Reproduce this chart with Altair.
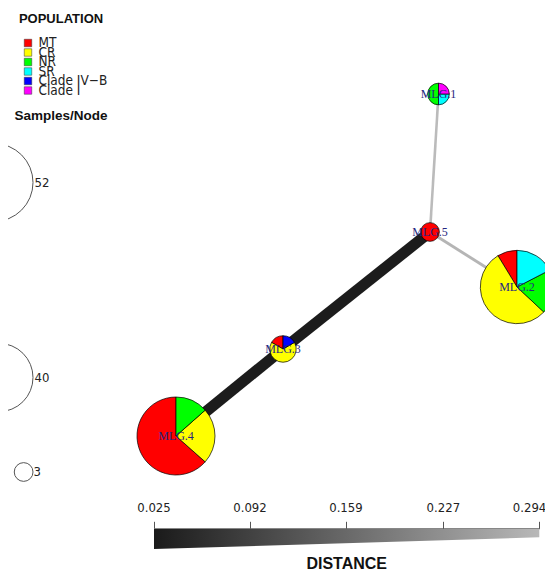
import math
import altair as alt
import pandas as pd

# ---------------- data ----------------
populations = ["MT", "CR", "NR", "SR", "Clade IV\u2212B", "Clade I"]
pop_colors = ["#FF0000", "#FFFF00", "#00FF00", "#00FFFF", "#0000FF", "#FF00FF"]

node_names = ["MLG.1", "MLG.2", "MLG.3", "MLG.4", "MLG.5"]
# network layout coordinates (layout units)
node_x = [438.5, 517, 283, 176, 430]
node_y = [94, 287, 349, 436, 232]
# samples per population (MT, CR, NR, SR, Clade IV-B, Clade I)
counts_mlg1 = [0, 0, 2, 1, 0, 1]
counts_mlg2 = [4, 25, 9, 8, 0, 0]
counts_mlg3 = [1, 4, 0, 0, 1, 0]
counts_mlg4 = [33, 12, 7, 0, 0, 0]
counts_mlg5 = [3, 0, 0, 0, 0, 0]

edge_from = ["MLG.4", "MLG.3", "MLG.5", "MLG.5"]
edge_to = ["MLG.3", "MLG.5", "MLG.1", "MLG.2"]
edge_dist = [0.025, 0.025, 0.294, 0.285]

dist_ticks = [0.025, 0.092, 0.159, 0.227, 0.294]
size_legend_values = [52, 40, 3]

# ---------------- derived tables ----------------
W, H = 537, 563
R_MAX = 39
all_counts = [counts_mlg1, counts_mlg2, counts_mlg3, counts_mlg4, counts_mlg5]

pie_rows = []
for name, x, y, cnts in zip(node_names, node_x, node_y, all_counts):
    total = sum(cnts)
    cum = 0
    for pop, c in zip(populations, cnts):
        if c == 0:
            continue
        c0 = cum / total
        cum += c
        c1 = cum / total
        # slices run counter-clockwise from 12 o'clock
        pie_rows.append({"node": name, "x": x, "y": y, "pop": pop,
                         "t0": 1 - c1, "t1": 1 - c0, "n": total})
pie_df = pd.DataFrame(pie_rows)

node_df = pd.DataFrame({"name": node_names, "x": node_x, "y": node_y})
pos = node_df.set_index("name")
edge_df = pd.DataFrame({
    "from": edge_from, "to": edge_to, "dist": edge_dist,
    "x1": [pos.loc[a, "x"] for a in edge_from],
    "y1": [pos.loc[a, "y"] for a in edge_from],
    "x2": [pos.loc[b, "x"] for b in edge_to],
    "y2": [pos.loc[b, "y"] for b in edge_to],
})

leg_df = pd.DataFrame({"pop": populations,
                       "x": [28] * 6,
                       "tx": [38.5] * 6,
                       "y": [43 + 9.5 * i for i in range(6)]})

size_df = pd.DataFrame({
    "n": size_legend_values,
    "label": [str(v) for v in size_legend_values],
    "cx": [33 - R_MAX * math.sqrt(v / 52) for v in size_legend_values],
    "cy": [182.5, 377.5, 472],
    "t0": [0, 0, 0], "t1": [1, 1, 1],
    "tx": [34.5, 34.5, 33.5],
})

titles_df = pd.DataFrame({
    "text": ["POPULATION", "Samples/Node", "DISTANCE"],
    "x": [61, 61, 346.7], "y": [18.7, 116, 564],
    "size": [13, 13.5, 16],
})

tick_df = pd.DataFrame({"dist": dist_ticks, "label": [f"{v:.3f}" for v in dist_ticks], "y": [508] * 5})
wedge_df = pd.DataFrame({"dist": [0.025, 0.294], "top": [529, 529], "bottom": [549, 537.3]})

# ---------------- scales ----------------
xs = alt.Scale(domain=[8, 8 + W])
ys = alt.Scale(domain=[8, 8 + H], reverse=True)
ds = alt.Scale(domain=[0.025, 0.294], range=[154 - 8, 539.3 - 8])
theta_scale = alt.Scale(domain=[0, 1], range=[0, 2 * math.pi])
r_scale = alt.Scale(type="sqrt", domain=[0, 52], range=[0, R_MAX])
fill_scale = alt.Scale(domain=populations, range=pop_colors)
NARROW = "Liberation Sans Narrow, DejaVu Sans Condensed, Liberation Sans, sans-serif"

# ---------------- layers ----------------
edges = alt.Chart(edge_df).mark_rule(strokeCap="butt").encode(
    x=alt.X("x1:Q", scale=xs, axis=None),
    y=alt.Y("y1:Q", scale=ys, axis=None),
    x2="x2:Q", y2="y2:Q",
    stroke=alt.Stroke("dist:Q", scale=alt.Scale(domain=[0.025, 0.294], range=["#1c1c1c", "#bbbbbb"]), legend=None),
    strokeWidth=alt.StrokeWidth("dist:Q", scale=alt.Scale(domain=[0.025, 0.294], range=[11, 2.6]), legend=None),
)

pies = alt.Chart(pie_df).mark_arc(stroke="#000000", strokeWidth=0.7).encode(
    x=alt.X("x:Q", scale=xs, axis=None),
    y=alt.Y("y:Q", scale=ys, axis=None),
    theta=alt.Theta("t0:Q", scale=theta_scale, stack=None),
    theta2="t1:Q",
    radius=alt.Radius("n:Q", scale=r_scale),
    fill=alt.Fill("pop:N", scale=fill_scale, legend=None),
)

node_labels = alt.Chart(node_df).mark_text(
    font="Liberation Serif", fontSize=12, color="#262680"
).encode(
    x=alt.X("x:Q", scale=xs, axis=None),
    y=alt.Y("y:Q", scale=ys, axis=None),
    text="name:N",
)

leg_squares = alt.Chart(leg_df).mark_square(size=56, stroke="#333333", strokeWidth=0.5, opacity=1).encode(
    x=alt.X("x:Q", scale=xs, axis=None),
    y=alt.Y("y:Q", scale=ys, axis=None),
    fill=alt.Fill("pop:N", scale=fill_scale, legend=None),
)
leg_text = alt.Chart(leg_df).mark_text(
    align="left", baseline="middle", font=NARROW, fontSize=13.5, color="#222222"
).encode(
    x=alt.X("tx:Q", scale=xs, axis=None),
    y=alt.Y("y:Q", scale=ys, axis=None),
    text="pop:N",
)

size_circles = alt.Chart(size_df).mark_arc(
    stroke="#555555", strokeWidth=1, fillOpacity=0, clip=True
).encode(
    x=alt.X("cx:Q", scale=xs, axis=None),
    y=alt.Y("cy:Q", scale=ys, axis=None),
    theta=alt.Theta("t0:Q", scale=theta_scale, stack=None),
    theta2="t1:Q",
    radius=alt.Radius("n:Q", scale=r_scale),
)
size_text = alt.Chart(size_df).mark_text(
    align="left", baseline="middle", font=NARROW, fontSize=13, color="#222222"
).encode(
    x=alt.X("tx:Q", scale=xs, axis=None),
    y=alt.Y("cy:Q", scale=ys, axis=None),
    text="label:N",
)

titles = alt.Chart(titles_df).mark_text(
    font="Liberation Sans", fontWeight="bold", baseline="middle", color="#111111"
).encode(
    x=alt.X("x:Q", scale=xs, axis=None),
    y=alt.Y("y:Q", scale=ys, axis=None),
    text="text:N",
    size=alt.Size("size:Q", scale=None),
)

grad = alt.Gradient(
    gradient="linear",
    stops=[alt.GradientStop(offset=0, color="#1a1a1a"), alt.GradientStop(offset=1, color="#b8b8b8")],
    x1=0, x2=1, y1=0, y2=0,
)
wedge = alt.Chart(wedge_df).mark_area(color=grad).encode(
    x=alt.X("dist:Q", scale=ds,
            axis=alt.Axis(orient="top", offset=-520.3, values=dist_ticks, labels=False,
                          title=None, tickSize=7, tickColor="#555555", domainColor="#555555",
                          grid=False)),
    y=alt.Y("top:Q", scale=ys, axis=None),
    y2="bottom:Q",
)

tick_labels = alt.Chart(tick_df).transform_filter(
    alt.datum.dist < 0.29
).mark_text(font=NARROW, fontSize=13, color="#222222", baseline="middle").encode(
    x=alt.X("dist:Q", scale=ds, axis=None),
    y=alt.Y("y:Q", scale=ys, axis=None),
    text="label:N",
)
last_label = alt.Chart(tick_df).transform_filter(
    alt.datum.dist > 0.29
).mark_text(font=NARROW, fontSize=13, color="#222222", baseline="middle", align="right", dx=7).encode(
    x=alt.X("dist:Q", scale=ds, axis=None),
    y=alt.Y("y:Q", scale=ys, axis=None),
    text="label:N",
)

chart = alt.layer(
    wedge, tick_labels, last_label, edges, pies, node_labels, leg_squares, leg_text,
    size_circles, size_text, titles
).resolve_scale(x="independent").properties(
    width=W, height=H, padding=0, autosize=alt.AutoSizeParams(type="none")
).configure_view(stroke=None)

chart.save("out.html", embed_options={"renderer": "svg", "actions": False})
